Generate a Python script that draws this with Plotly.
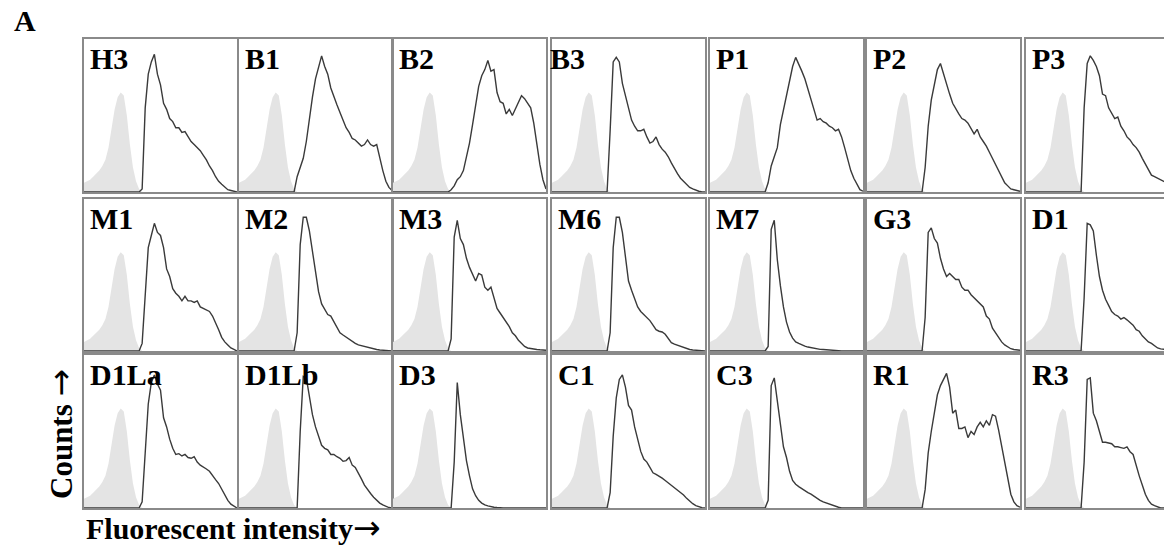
import plotly.graph_objects as go

# ---------------- data (relative counts, % of panel height) ----------------
INTENSITY = [0, 2, 4, 6, 8, 10, 12, 14, 16, 18, 20, 22, 24, 26, 28, 30, 32, 34, 36,
             38, 40, 42, 44, 46, 48, 50, 52, 54, 56, 58, 60, 62, 64, 66, 68, 70,
             72, 74, 76, 78, 80, 82, 84, 86, 88, 90, 92, 94, 96, 98, 100]

CONTROL = [6, 7, 8, 10, 12, 14, 17, 21, 29, 42, 54, 62, 65, 63, 50, 31, 16, 7, 2,
           0, 0, 0, 0, 0, 0, 0, 0, 0, 0, 0, 0, 0, 0, 0, 0, 0,
           0, 0, 0, 0, 0, 0, 0, 0, 0, 0, 0, 0, 0, 0, 0]

H3 = [0, 0, 0, 0, 0, 0, 0, 0, 0, 0, 0, 0, 0, 0, 0, 0, 0, 0, 0,
      2, 55, 77, 85, 90, 77, 70, 58, 54, 48, 46, 42, 42, 39, 39.5, 36, 33,
      31, 29, 27, 24, 21, 17, 14, 10, 7, 5, 3, 1.5, 1, 0.5, 0]
B1 = [0, 0, 0, 0, 0, 0, 0, 0, 0, 0, 0, 0, 0, 0, 0, 0, 0, 0, 0,
      10, 16, 22, 33, 48, 62, 74, 81, 89, 82, 77, 68, 62, 57, 52, 47, 42,
      39, 35, 34, 32, 30, 31, 34, 31, 30, 31, 22, 14, 7, 3, 1]
B2 = [0, 0, 0, 0, 0, 0, 0, 0, 0, 0, 0, 0, 0, 0, 0, 0, 0, 0, 0,
      1.5, 4, 8, 10, 14, 22, 32, 44, 56, 69, 76, 80, 86, 79, 80, 65, 59,
      58, 51, 54, 50, 54, 58, 63, 61, 58, 55, 45, 30, 18, 8, 2]
B3 = [0, 0, 0, 0, 0, 0, 0, 0, 0, 0, 0, 0, 0, 0, 0, 0, 0, 0, 0,
      40, 85, 88, 85, 71, 63, 53, 47, 43, 40, 40, 41, 36, 32, 33, 36, 31,
      28, 26, 23, 19, 15, 12, 9, 7, 5, 3, 2, 1, 0.5, 0, 0]
P1 = [0, 0, 0, 0, 0, 0, 0, 0, 0, 0, 0, 0, 0, 0, 0, 0, 0, 0, 0,
      6, 17, 23, 29, 44, 53, 62, 72, 82, 88, 84, 79, 74, 67, 60, 54, 47,
      48, 46, 45, 43, 42, 40, 41, 36, 29, 21, 14, 9, 5, 1.5, 0.5]
P2 = [0, 0, 0, 0, 0, 0, 0, 0, 0, 0, 0, 0, 0, 0, 0, 0, 0, 0, 0,
      16, 43, 60, 71, 80, 84, 77, 70, 64, 58, 54, 51, 48, 47, 45, 41, 38,
      41, 36, 33, 30, 26, 22, 18, 14, 10, 6, 4, 2, 1.5, 1, 0.5]
P3 = [0, 0, 0, 0, 0, 0, 0, 0, 0, 0, 0, 0, 0, 0, 0, 0, 0, 0, 0,
      55, 84, 89, 86, 82, 76, 64, 63, 55, 51, 48, 49, 43, 40, 36, 34, 31,
      29, 26, 22, 18, 15, 11, 10, 9, 8, 7, 6, 4, 3, 2, 1]
M1 = [0, 0, 0, 0, 0, 0, 0, 0, 0, 0, 0, 0, 0, 0, 0, 0, 0, 0, 0,
      5, 40, 68, 76, 84, 78, 76, 68, 54, 49, 41, 38, 36, 33, 36, 33, 33,
      32, 33, 29, 28, 27, 26, 23, 19, 14, 9, 6, 4, 2, 1, 0]
M2 = [0, 0, 0, 0, 0, 0, 0, 0, 0, 0, 0, 0, 0, 0, 0, 0, 0, 0, 0,
      12, 70, 88, 88, 79, 66, 51, 39, 31, 27, 24, 23, 19, 15, 12, 10.5, 9,
      7.5, 6, 5, 4, 3.5, 2.5, 2, 1.5, 1, 1, 0.7, 0.5, 0, 0, 0]
M3 = [0, 0, 0, 0, 0, 0, 0, 0, 0, 0, 0, 0, 0, 0, 0, 0, 0, 0, 0,
      8, 75, 86, 74, 70, 61, 55, 51, 46, 51, 50, 42, 40, 42, 34, 28, 25,
      22, 19, 16, 12, 10, 7, 5, 3, 2, 1.5, 1.2, 1, 0.8, 0.7, 0.5]
M6 = [0, 0, 0, 0, 0, 0, 0, 0, 0, 0, 0, 0, 0, 0, 0, 0, 0, 0, 0,
      12, 68, 88, 88, 78, 60, 46, 40, 35, 29, 26, 24, 22, 20, 17, 14, 13,
      12.5, 11, 8, 5.5, 4.5, 3.7, 3, 2.2, 1.6, 1, 0.7, 0.5, 0, 0, 0]
M7 = [0, 0, 0, 0, 0, 0, 0, 0, 0, 0, 0, 0, 0, 0, 0, 0, 0, 0, 0,
      3, 80, 86, 60, 43, 29, 19, 12.5, 8.5, 6, 5, 4, 3.2, 2.6, 2.2, 1.7, 1.3,
      1.1, 1, 0.8, 0.7, 0.5, 0, 0, 0, 0, 0, 0, 0, 0, 0, 0]
G3 = [0, 0, 0, 0, 0, 0, 0, 0, 0, 0, 0, 0, 0, 0, 0, 0, 0, 0, 0,
      22, 78, 81, 74, 71, 61, 54, 49, 51, 49, 47, 47, 42, 40, 40, 37, 35,
      33, 31, 29, 23, 21, 15, 12, 8.5, 6, 4, 2.5, 1.5, 1, 0.7, 0.5]
D1 = [0, 0, 0, 0, 0, 0, 0, 0, 0, 0, 0, 0, 0, 0, 0, 0, 0, 0, 0,
      35, 84, 83, 79, 63, 49, 40, 34, 30, 26, 24, 23, 21, 22, 20.5, 19, 17,
      14, 13, 10, 8, 6, 5, 3.5, 2, 1.4, 1, 0.7, 0.5, 0, 0, 0]
D1La = [0, 0, 0, 0, 0, 0, 0, 0, 0, 0, 0, 0, 0, 0, 0, 0, 0, 0, 0,
        4, 39, 68, 82, 87, 81, 77, 59, 53, 45, 39, 35, 35.5, 34, 35, 33, 32.5,
        33.5, 30, 28, 27, 25.5, 24, 21, 18.5, 16, 12, 8, 5, 2.5, 1, 0]
D1Lb = [0, 0, 0, 0, 0, 0, 0, 0, 0, 0, 0, 0, 0, 0, 0, 0, 0, 0, 0,
        0, 50, 86, 85, 74, 61, 53, 47, 41, 39, 38, 35, 35, 33.5, 32.5, 30.5, 31,
        33, 28, 26.5, 23, 19, 15, 12, 9.5, 7, 5, 3.2, 2, 1, 0.3, 0]
D3 = [0, 0, 0, 0, 0, 0, 0, 0, 0, 0, 0, 0, 0, 0, 0, 0, 0, 0, 0,
      0, 30, 82, 61, 46, 31, 21, 12.5, 8, 5, 3.2, 2, 1.4, 0.8, 0.5, 0.3, 0,
      0, 0, 0, 0, 0, 0, 0, 0, 0, 0, 0, 0, 0, 0, 0]
C1 = [0, 0, 0, 0, 0, 0, 0, 0, 0, 0, 0, 0, 0, 0, 0, 0, 0, 0, 0,
      10, 47, 72, 84, 87, 79, 67, 64, 53, 45, 37, 32, 30, 26.5, 23, 22, 21,
      19.5, 18, 16.5, 15, 13.5, 11.5, 10, 8.5, 6.3, 4.5, 2.8, 1.6, 0.8, 0.2, 0]
C3 = [0, 0, 0, 0, 0, 0, 0, 0, 0, 0, 0, 0, 0, 0, 0, 0, 0, 0, 0,
      5, 80, 85, 71, 55, 40, 33, 24, 18, 15.5, 14, 12.5, 11, 10, 9, 7.5, 6,
      5, 4, 3.2, 2.4, 1.6, 1, 0.5, 0, 0, 0, 0, 0, 0, 0, 0]
R1 = [0, 0, 0, 0, 0, 0, 0, 0, 0, 0, 0, 0, 0, 0, 0, 0, 0, 0, 0,
      12, 36, 50, 63, 74, 80, 84, 88, 79, 62, 64, 52, 52, 53, 46, 50, 48,
      53, 56, 53, 57, 54, 61, 60, 51, 40, 29, 18, 9, 4, 1.5, 0.5]
R3 = [0, 0, 0, 0, 0, 0, 0, 0, 0, 0, 0, 0, 0, 0, 0, 0, 0, 0, 0,
      30, 84, 85, 62, 57, 49, 43, 43, 42.5, 42, 40, 40, 39.5, 39, 40, 36.8, 35,
      27, 21, 15, 9, 5, 2.5, 1.5, 0.8, 0, 0, 0, 0, 0, 0, 0]

SAMPLE_NAMES = ["H3", "B1", "B2", "B3", "P1", "P2", "P3",
                "M1", "M2", "M3", "M6", "M7", "G3", "D1",
                "D1La", "D1Lb", "D3", "C1", "C3", "R1", "R3"]
SAMPLE_COUNTS = [H3, B1, B2, B3, P1, P2, P3,
                 M1, M2, M3, M6, M7, G3, D1,
                 D1La, D1Lb, D3, C1, C3, R1, R3]

# ---------------- layout geometry (pixels) ----------------
W, H = 1164, 547
COL_LEFT = [84, 239, 393, 552, 710, 867, 1026]
ROW_TOP = [39, 199, 355]
ROW_BOTTOM = [192, 351, 508]
PANEL_W = 153
LABEL_DX = {"B3": -4}

FILL_COLOR = "#e4e4e4"
LINE_COLOR = "#3a3a3a"
FRAME_COLOR = "#8a8a8a"
SERIF = "Liberation Serif, Times New Roman, serif"
ARROW = '<span style="font-family:DejaVu Sans;font-size:33px">→</span>'

fig = go.Figure()
layout = {}
annotations = []

for i, (name, counts) in enumerate(zip(SAMPLE_NAMES, SAMPLE_COUNTS)):
    r, c = divmod(i, 7)
    k = i + 1
    sfx = "" if k == 1 else str(k)
    left = COL_LEFT[c]
    right = min(left + PANEL_W, W)
    top, bottom = ROW_TOP[r], ROW_BOTTOM[r]
    xmax = 100.0 * (right - left) / PANEL_W

    fig.add_trace(go.Scatter(
        x=INTENSITY, y=CONTROL, xaxis="x" + sfx, yaxis="y" + sfx,
        mode="lines", line=dict(width=0, color=FILL_COLOR),
        fill="tozeroy", fillcolor=FILL_COLOR, hoverinfo="skip", showlegend=False))
    fig.add_trace(go.Scatter(
        x=INTENSITY, y=counts, xaxis="x" + sfx, yaxis="y" + sfx,
        mode="lines", line=dict(width=1.4, color=LINE_COLOR),
        hoverinfo="skip", showlegend=False))

    common = dict(showgrid=False, zeroline=False, showticklabels=False, ticks="",
                  showline=True, linecolor=FRAME_COLOR, linewidth=1.5, fixedrange=True)
    layout["xaxis" + sfx] = dict(common, domain=[left / W, right / W], range=[0, xmax],
                                 mirror=True, anchor="y" + sfx)
    layout["yaxis" + sfx] = dict(common, domain=[(H - bottom) / H, (H - top) / H],
                                 range=[0, 100], mirror=(right < W), anchor="x" + sfx)

    dx = LABEL_DX.get(name, 4)
    annotations.append(dict(
        text="<b>%s</b>" % name, xref="paper", yref="paper",
        x=(left + dx) / W, y=1 - (top + 1) / H, xanchor="left", yanchor="top",
        showarrow=False, font=dict(family=SERIF, size=30, color="black")))

annotations.append(dict(
    text="<b>A</b>", xref="paper", yref="paper", x=12 / W, y=1 - 2 / H,
    xanchor="left", yanchor="top", showarrow=False,
    font=dict(family=SERIF, size=30, color="black")))
annotations.append(dict(
    text="<b>Fluorescent intensity</b>" + ARROW, xref="paper", yref="paper",
    x=84 / W, y=1 - 506 / H, xanchor="left", yanchor="top", showarrow=False,
    font=dict(family=SERIF, size=30, color="black")))
annotations.append(dict(
    text="<b>Counts </b>" + ARROW, xref="paper", yref="paper",
    x=60 / W, y=1 - 434 / H, xanchor="center", yanchor="middle", textangle=-90,
    showarrow=False, font=dict(family=SERIF, size=31, color="black")))

fig.update_layout(
    width=W, height=H, margin=dict(l=0, r=0, t=0, b=0),
    paper_bgcolor="white", plot_bgcolor="white",
    annotations=annotations, showlegend=False, **layout)

fig.write_html("out.html", config={"displayModeBar": False},
               post_script="document.body.style.margin='0px';")
